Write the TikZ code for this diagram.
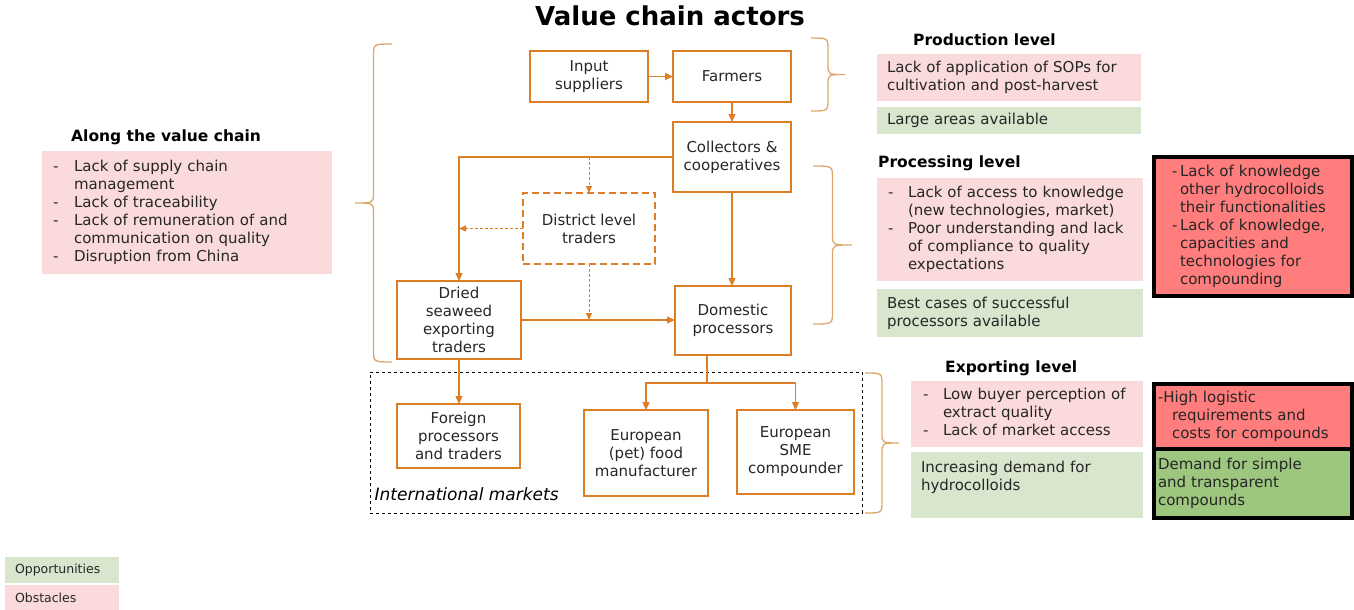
\documentclass[tikz,border=0pt]{standalone}
\usepackage{fontspec}
\setmainfont{DejaVu Sans}
\usepackage{xcolor}
\usepackage{tikz}
\usetikzlibrary{arrows.meta,positioning}

\definecolor{chainorange}{RGB}{221,126,38}
\definecolor{bracetan}{RGB}{222,166,104}
\definecolor{pinkbg}{RGB}{250,218,218}
\definecolor{greenbg}{RGB}{215,230,205}
\definecolor{redbg}{RGB}{255,125,125}
\definecolor{darkgreen}{RGB}{157,198,127}
\definecolor{textgray}{RGB}{38,38,38}

\newcommand{\boxfont}{\fontsize{15}{18}\selectfont}
\newcommand{\headfont}{\fontsize{15.5}{18}\selectfont\bfseries}
\newcommand{\titlefont}{\fontsize{26}{30}\selectfont\bfseries}
\newcommand{\legendfont}{\fontsize{12.5}{15}\selectfont}
\newcommand{\marketfont}{\fontsize{17}{20}\selectfont\itshape}

% curly brace: #1 = x of the ends, #2 = top y, #3 = bottom y, #4 = depth of the tip (negative points left)
\newcommand{\levelbrace}[4]{%
  \draw[curly] (#1,#2) .. controls ({#1+0.5*#4},#2) .. ({#1+0.5*#4},{#2+12})
    -- ({#1+0.5*#4},{(#2+#3)/2-10}) .. controls ({#1+0.5*#4},{(#2+#3)/2}) .. ({#1+#4},{(#2+#3)/2})
    .. controls ({#1+0.5*#4},{(#2+#3)/2}) .. ({#1+0.5*#4},{(#2+#3)/2+10})
    -- ({#1+0.5*#4},{#3-12}) .. controls ({#1+0.5*#4},#3) .. (#1,#3);}

\begin{document}
\begin{tikzpicture}[
    x=1pt, y=-1pt,
    actor/.style={rectangle, draw=chainorange, line width=2pt, align=center, font=\boxfont, text=textgray, inner sep=2pt, outer sep=0pt},
    thinactor/.style={actor, line width=1.4pt},
    districtbox/.style={actor, dash pattern=on 7pt off 4pt, line width=1.8pt},
    obst/.style={rectangle, fill=pinkbg, anchor=north west, align=left, inner ysep=0pt, outer sep=0pt, font=\boxfont, text=textgray},
    opp/.style={obst, fill=greenbg},
    hardobst/.style={obst, fill=redbg, draw=black, line width=4pt},
    hardopp/.style={hardobst, fill=darkgreen},
    heading/.style={font=\headfont, anchor=west, inner sep=0pt},
    arrow/.style={-{Triangle[length=8pt,width=7pt]}, draw=chainorange, line width=1.3pt},
    darrow/.style={-{Triangle[length=7pt,width=6pt]}, draw=chainorange, line width=1pt, dash pattern=on 3pt off 2pt},
    link/.style={draw=chainorange, line width=1.3pt},
    curly/.style={draw=bracetan, line width=1.3pt}
]
\useasboundingbox (0,0) rectangle (1354,610);

    % Title
    \node[font=\titlefont] (title) at (670,16) {Value chain actors};

    % Value chain actors
    \node[actor, minimum width=118pt, minimum height=51pt] (input) at (589,76.5) {Input\\suppliers};
    \node[actor, minimum width=118pt, minimum height=51pt, right=25pt of input] (farmers) {Farmers};
    \node[thinactor, minimum width=118pt, minimum height=70pt, below=20pt of farmers] (collect) {Collectors \&\\cooperatives};
    \node[districtbox, minimum width=132pt, minimum height=71pt] (district) at (589,228.5) {District level\\traders};
    \node[actor, minimum width=124pt, minimum height=78pt] (dried) at (459,320) {Dried\\seaweed\\exporting\\traders};
    \node[thinactor, minimum width=116pt, minimum height=69pt] (domestic) at (733,320.5) {Domestic\\processors};

    % International markets
    \node[draw=black, dashed, line width=1pt, minimum width=492pt, minimum height=141pt] (intl) at (616,442.5) {};
    \node[font=\marketfont, anchor=base west, inner sep=0pt] (intllabel) at ([xshift=5pt,yshift=13pt]intl.south west) {International markets};
    \node[actor, minimum width=123pt, minimum height=64pt] (foreign) at (458.5,436) {Foreign\\processors\\and traders};
    \node[actor, minimum width=124pt, minimum height=86pt] (eufood) at (646,453) {European\\(pet) food\\manufacturer};
    \node[actor, minimum width=117pt, minimum height=84pt] (eusme) at (795.5,452) {European\\SME\\compounder};

    % Arrows
    \draw[arrow] (input) -- (farmers);
    \draw[arrow] (farmers) -- (collect);
    \draw[arrow] (collect.west) -| (dried.north);
    \draw[darrow] (district.north |- collect.west) -- (district.north);
    \draw[darrow] (district.west) -- (dried.north |- district.west);
    \draw[darrow] (district.south) -- (district.south |- dried.east);
    \draw[arrow] (collect.south) -- (collect.south |- domestic.north);
    \draw[arrow] (dried.east) -- (dried.east -| domestic.west);
    \draw[arrow] (dried.south) -- (dried.south |- foreign.north);
    \coordinate (split) at (707,383);
    \draw[link] (domestic.south -| split) -- (split);
    \draw[arrow] (split) -| (eufood.north);
    \draw[arrow] (split) -| (eusme.north);

    % Braces
    \levelbrace{392}{44}{362}{-37}
    \levelbrace{811}{38}{111}{34}
    \levelbrace{813}{166}{324}{39}
    \levelbrace{865}{373}{513}{34}

    % Along the value chain
    \node[heading] (alonghead) at (71,137) {Along the value chain};
    \node[obst, minimum height=123pt, text width=268pt, inner xsep=11pt] (alongbox) at (42,151) {%
        \begin{tabular}{@{}p{21pt}@{}l@{}}
        - & Lack of supply chain\\
          & management\\
        - & Lack of traceability\\
        - & Lack of remuneration of and\\
          & communication on quality\\
        - & Disruption from China
        \end{tabular}};

    % Production level
    \node[heading] (prodhead) at (913,40) {Production level};
    \node[obst, minimum height=47pt, text width=244pt, inner xsep=10pt] (prodobst) at (877,54) {Lack of application of SOPs for\\cultivation and post-harvest};
    \node[opp, minimum height=27pt, text width=244pt, inner xsep=10pt, below=6pt of prodobst.south west, anchor=north west] (prodopp) {Large areas available};

    % Processing level
    \node[heading] (prochead) at (878,163) {Processing level};
    \node[obst, minimum height=103pt, text width=244pt, inner xsep=11pt] (procobst) at (877,178) {%
        \begin{tabular}{@{}p{20pt}@{}l@{}}
        - & Lack of access to knowledge\\
          & (new technologies, market)\\
        - & Poor understanding and lack\\
          & of compliance to quality\\
          & expectations
        \end{tabular}};
    \node[opp, minimum height=48pt, text width=246pt, inner xsep=10pt, below=8pt of procobst.south west, anchor=north west] (procopp) {Best cases of successful\\processors available};
    \node[hardobst, minimum height=139pt, text width=162pt, inner xsep=18pt] (procred) at (1154,157) {%
        \begin{tabular}{@{}p{8pt}@{}l@{}}
        - & Lack of knowledge\\
          & other hydrocolloids\\
          & their functionalities\\
        - & Lack of knowledge,\\
          & capacities and\\
          & technologies for\\
          & compounding
        \end{tabular}};

    % Exporting level
    \node[heading] (exphead) at (945,368) {Exporting level};
    \node[obst, minimum height=66pt, text width=208pt, inner xsep=12pt] (expobst) at (911,381) {%
        \begin{tabular}{@{}p{20pt}@{}l@{}}
        - & Low buyer perception of\\
          & extract quality\\
        - & Lack of market access
        \end{tabular}};
    \node[opp, minimum height=66pt, text width=212pt, inner xsep=10pt, below=5pt of expobst.south west, anchor=north west] (expopp) {Increasing demand for\\hydrocolloids\\\mbox{}};
    \node[hardobst, minimum height=65pt, text width=190pt, inner xsep=4pt] (expred) at (1154,384) {-High logistic\\\hspace*{14pt}requirements and\\\hspace*{14pt}costs for compounds};
    \node[hardopp, minimum height=69pt, text width=190pt, inner xsep=4pt, below=0pt of expred.south west, anchor=north west] (expgreen) {Demand for simple\\and transparent\\compounds};

    % Legend
    \node[opp, font=\legendfont, minimum height=26pt, text width=94pt, inner xsep=10pt] (oppleg) at (5,557) {Opportunities};
    \node[obst, font=\legendfont, minimum height=25pt, text width=94pt, inner xsep=10pt, below=2pt of oppleg.south west, anchor=north west] (obstleg) {Obstacles};

\end{tikzpicture}
\end{document}
